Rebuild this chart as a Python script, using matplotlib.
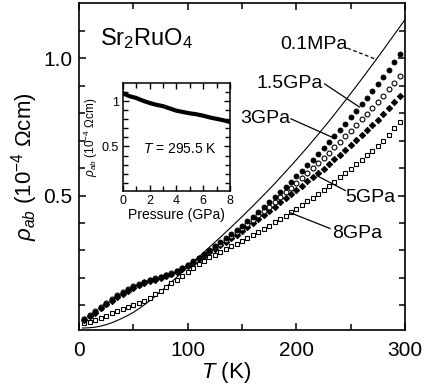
import matplotlib
matplotlib.use("Agg")
import matplotlib.pyplot as plt
import numpy as np

plt.rcParams['font.family'] = ['Liberation Sans', 'DejaVu Sans']
plt.rcParams['mathtext.fontset'] = 'custom'
plt.rcParams['mathtext.rm'] = 'Liberation Sans'
plt.rcParams['mathtext.it'] = 'Liberation Sans:italic'

# ---------------- data ----------------
T = list(range(5, 300, 5))

rho_15 = [0.050, 0.062, 0.076, 0.091, 0.106, 0.121, 0.134, 0.146, 0.157, 0.167,
          0.176, 0.184, 0.191, 0.197, 0.203, 0.209, 0.216, 0.226, 0.237, 0.248,
          0.261, 0.274, 0.287, 0.300, 0.315, 0.330, 0.345, 0.360, 0.375, 0.390,
          0.406, 0.423, 0.440, 0.457, 0.475, 0.493, 0.512, 0.531, 0.550, 0.570,
          0.590, 0.610, 0.630, 0.651, 0.672, 0.694, 0.716, 0.738, 0.761, 0.785,
          0.808, 0.832, 0.856, 0.880, 0.905, 0.931, 0.958, 0.986, 1.014]

rho_30 = [0.052, 0.065, 0.079, 0.094, 0.109, 0.124, 0.137, 0.149, 0.160, 0.169,
          0.178, 0.186, 0.193, 0.199, 0.205, 0.210, 0.217, 0.226, 0.236, 0.246,
          0.258, 0.271, 0.284, 0.297, 0.311, 0.325, 0.339, 0.353, 0.368, 0.382,
          0.397, 0.412, 0.428, 0.444, 0.460, 0.477, 0.494, 0.511, 0.528, 0.545,
          0.563, 0.581, 0.599, 0.617, 0.635, 0.655, 0.675, 0.695, 0.715, 0.735,
          0.756, 0.777, 0.798, 0.819, 0.840, 0.863, 0.886, 0.910, 0.935]

rho_50 = [0.048, 0.060, 0.074, 0.089, 0.104, 0.118, 0.131, 0.143, 0.154, 0.164,
          0.173, 0.181, 0.188, 0.194, 0.200, 0.206, 0.213, 0.222, 0.232, 0.243,
          0.255, 0.268, 0.280, 0.293, 0.306, 0.319, 0.332, 0.345, 0.358, 0.372,
          0.386, 0.400, 0.415, 0.430, 0.445, 0.460, 0.475, 0.490, 0.505, 0.520,
          0.535, 0.551, 0.567, 0.582, 0.598, 0.615, 0.632, 0.649, 0.666, 0.683,
          0.701, 0.719, 0.737, 0.755, 0.774, 0.795, 0.817, 0.839, 0.862]

rho_80 = [0.035, 0.040, 0.047, 0.054, 0.062, 0.071, 0.079, 0.087, 0.094, 0.101,
          0.109, 0.118, 0.128, 0.140, 0.153, 0.166, 0.180, 0.194, 0.207, 0.220,
          0.235, 0.249, 0.262, 0.275, 0.285, 0.295, 0.305, 0.315, 0.325, 0.335,
          0.346, 0.357, 0.368, 0.379, 0.390, 0.402, 0.414, 0.427, 0.439, 0.452,
          0.465, 0.479, 0.492, 0.506, 0.520, 0.535, 0.550, 0.566, 0.582, 0.598,
          0.614, 0.630, 0.646, 0.663, 0.681, 0.700, 0.721, 0.744, 0.768]

# ambient pressure (0.1 MPa) thin line
T_amb = [3, 5, 10, 15, 20, 25, 30, 35, 40, 45, 50, 55, 60, 65, 70, 75, 80, 90,
         100, 110, 120, 130, 140, 150, 160, 170, 180, 190, 200, 210, 220, 230,
         240, 250, 260, 270, 280, 290, 300]
rho_amb = [0.018, 0.018, 0.019, 0.021, 0.025, 0.030, 0.037, 0.045, 0.054, 0.064,
           0.075, 0.088, 0.102, 0.117, 0.133, 0.150, 0.167, 0.203, 0.240, 0.276,
           0.312, 0.348, 0.385, 0.423, 0.462, 0.502, 0.543, 0.586, 0.630, 0.675,
           0.722, 0.770, 0.820, 0.871, 0.923, 0.976, 1.030, 1.085, 1.140]

# inset: rho_ab at 295.5 K vs pressure
P = [0, 0.25, 0.5, 1, 1.5, 2, 2.5, 3, 3.5, 4, 4.5, 5, 5.5, 6, 6.5, 7, 7.5, 8]
rho_P = [1.09, 1.07, 1.055, 1.035, 1.005, 0.98, 0.96, 0.945, 0.92, 0.895,
         0.88, 0.866, 0.855, 0.84, 0.82, 0.805, 0.79, 0.77]

# ---------------- figure ----------------
fig = plt.figure(figsize=(4.25, 3.88), dpi=100)
ax = fig.add_axes([0.186, 0.149, 0.767, 0.843])

ax.plot(T_amb, rho_amb, color='black', lw=0.8)
ax.plot(T, rho_80, 's', ms=3.5, mfc='white', mec='black', mew=0.8)
ax.plot(T, rho_50, 'D', ms=3.3, mfc='black', mec='black', mew=0.6)
ax.plot(T, rho_30, 'o', ms=3.5, mfc='white', mec='black', mew=0.8)
ax.plot(T, rho_15, 'o', ms=3.6, mfc='black', mec='black', mew=0.6)

ax.set_xlim(0, 300)
ax.set_ylim(0.01, 1.2)
ax.set_xticks([0, 100, 200, 300])
ax.set_xticks([50, 150, 250], minor=True)
ax.set_yticks([0.5, 1.0])
ax.set_yticklabels(['0.5', '1.0'])
ax.set_yticks([0.1, 0.2, 0.3, 0.4, 0.6, 0.7, 0.8, 0.9, 1.1], minor=True)
ax.tick_params(which='both', direction='in', top=True, right=True,
               width=1.1, labelsize=15)
ax.tick_params(which='major', length=5)
ax.tick_params(which='minor', length=4.5)
ax.tick_params(axis='x', pad=8)
ax.tick_params(axis='y', pad=5)
for s in ax.spines.values():
    s.set_linewidth(1.2)

ax.set_xlabel(r'$T$ (K)', fontsize=16, labelpad=0)
ax.xaxis.set_label_coords(0.45, -0.09)
ax.set_ylabel(r'$\rho_{ab}$ (10$^{-4}$ Ωcm)', fontsize=16, labelpad=2)

ax.text(19, 1.072, r'Sr$_2$RuO$_4$', fontsize=17, va='center', ha='left')

# curve labels with leader lines
ax.text(247, 1.05, '0.1MPa', fontsize=14, ha='right', va='center')
ax.plot([247, 273], [1.036, 0.996], color='black', lw=0.9, ls=(0, (3, 2)))
ax.text(224, 0.909, '1.5GPa', fontsize=14, ha='right', va='center')
ax.plot([226, 258], [0.906, 0.822], color='black', lw=0.9)
ax.text(194, 0.779, '3GPa', fontsize=14, ha='right', va='center')
ax.plot([195, 234], [0.779, 0.71], color='black', lw=0.9)
ax.text(245, 0.493, '5GPa', fontsize=14, ha='left', va='center')
ax.plot([245, 219], [0.518, 0.572], color='black', lw=0.9)
ax.text(233, 0.362, '8GPa', fontsize=14, ha='left', va='center')
ax.plot([231, 194], [0.380, 0.438], color='black', lw=0.9)

# ---------------- inset ----------------
ins = fig.add_axes([0.289, 0.508, 0.252, 0.278])
ins.plot(P, rho_P, color='black', lw=3)
ins.set_xlim(0, 8)
ins.set_ylim(0.01, 1.2)
ins.set_xticks([0, 2, 4, 6, 8])
ins.set_xticks([1, 3, 5, 7], minor=True)
ins.set_yticks([0.5, 1.0])
ins.set_yticklabels(['0.5', '1'])
ins.set_yticks([0.1, 0.2, 0.3, 0.4, 0.6, 0.7, 0.8, 0.9, 1.1], minor=True)
ins.tick_params(which='both', direction='in', top=True, right=True,
                width=1.0, labelsize=9, pad=3)
ins.tick_params(which='major', length=4)
ins.tick_params(which='minor', length=3.5)
for s in ins.spines.values():
    s.set_linewidth(1.1)
ins.set_xlabel('Pressure (GPa)', fontsize=10, labelpad=1)
ins.set_ylabel(r'$\rho_{ab}$ (10$^{-4}$ Ωcm)', fontsize=8.5, labelpad=1)
ins.text(4.25, 0.47, r'$T$ = 295.5 K', fontsize=10, ha='center', va='center')

fig.savefig('out.png', dpi=100)
